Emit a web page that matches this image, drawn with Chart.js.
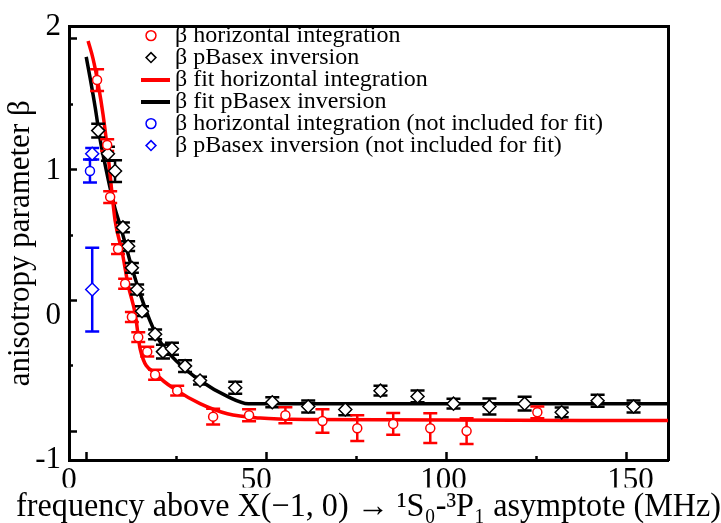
<!DOCTYPE html>
<html>
<head>
<meta charset="utf-8">
<script src="https://cdn.jsdelivr.net/npm/chart.js@4.4.1/dist/chart.umd.min.js"></script>
<style>
  body { margin: 0; background: #fff; }
</style>
</head>
<body>
<canvas id="betaChart" width="721" height="523"></canvas>
<script>
// beta from horizontal integration (red circles)
const horizFreq = [7.5, 10.2, 11.0, 13.1, 15.0, 16.8, 18.5, 20.9, 23.0, 28.9, 38.5, 48.1, 57.8, 67.7, 77.0, 86.6, 96.5, 106.2, 125.1];
const horizBeta = [1.63, 1.18, 0.82, 0.46, 0.22, -0.01, -0.15, -0.25, -0.41, -0.52, -0.70, -0.69, -0.69, -0.73, -0.78, -0.75, -0.78, -0.80, -0.67];
const horizErr = [0.075, 0.041, 0.041, 0.034, 0.034, 0.034, 0.034, 0.034, 0.034, 0.034, 0.055, 0.041, 0.055, 0.082, 0.089, 0.075, 0.103, 0.089, 0.041];

// beta from pBasex inversion (black diamonds)
const pbFreq = [7.8, 10.4, 12.3, 14.4, 15.8, 16.8, 18.2, 19.5, 23.0, 25.1, 27.5, 31.0, 35.0, 44.4, 54.3, 63.9, 73.8, 83.2, 93.1, 102.7, 112.3, 121.7, 131.6, 141.2, 150.8];
const pbBeta = [1.28, 1.12, 1.00, 0.61, 0.48, 0.33, 0.18, 0.03, -0.13, -0.25, -0.23, -0.35, -0.45, -0.50, -0.60, -0.63, -0.65, -0.52, -0.56, -0.61, -0.63, -0.61, -0.67, -0.59, -0.63];
const pbErr = [0.048, 0.048, 0.075, 0.034, 0.034, 0.034, 0.034, 0.034, 0.034, 0.048, 0.041, 0.041, 0.027, 0.041, 0.034, 0.041, 0.041, 0.034, 0.041, 0.034, 0.055, 0.048, 0.034, 0.041, 0.041];

// fit curves
const horizFitFreq = [5.1, 6.4, 7.8, 9.1, 10.4, 12.3, 14.2, 15.8, 17.7, 19.0, 23.5, 28.9, 35.0, 42.3, 51.1, 64.4, 160];
const horizFitBeta = [1.90, 1.78, 1.60, 1.39, 1.12, 0.66, 0.44, 0.21, 0.01, -0.23, -0.41, -0.52, -0.61, -0.68, -0.71, -0.72, -0.727];
const pbFitFreq = [4.6, 5.6, 7.0, 8.3, 9.6, 11.0, 12.3, 13.6, 15.0, 16.8, 19.0, 21.7, 24.3, 28.9, 35.0, 42.3, 47.9, 160];
const pbFitBeta = [1.79, 1.65, 1.44, 1.22, 1.05, 0.88, 0.74, 0.63, 0.50, 0.33, 0.15, -0.04, -0.18, -0.32, -0.45, -0.56, -0.611, -0.611];

// points left out of the fit (blue)
const exclHorizFreq = [5.6];
const exclHorizBeta = [1.00];
const exclHorizErr = [0.08];
const exclPbFreq = [6.2, 6.2];
const exclPbBeta = [1.12, 0.18];
const exclPbErr = [0.04, 0.29];

// tick labels
const xTicks = [0, 50, 100, 150];
const yTicks = [-1, 0, 1, 2];

const serif = "'Liberation Serif', 'DejaVu Serif', serif";

function points(freq, beta) {
  return freq.map((f, i) => ({ x: f, y: beta[i] }));
}

// vertical bar + caps for each point, gaps between them
function errorBars(freq, beta, err) {
  const pts = [];
  freq.forEach((f, i) => {
    pts.push({ x: f, y: beta[i] - err[i] }, { x: f, y: beta[i] + err[i] }, { x: f, y: null });
  });
  return pts;
}

// little line sample for the legend
function lineIcon(color) {
  const c = document.createElement("canvas");
  c.width = 38;
  c.height = 4;
  const g = c.getContext("2d");
  g.fillStyle = color;
  g.fillRect(0, 0, 38, 4);
  return c;
}

function markerSet(label, data, color, style, radius) {
  return {
    label, data,
    pointStyle: style, pointRadius: radius,
    borderColor: color, backgroundColor: "#fff", borderWidth: 1.5,
    xAxisID: "x", yAxisID: "y", order: 1
  };
}

function barSet(data, color) {
  return {
    label: "", data, showLine: true, spanGaps: false,
    borderColor: color, borderWidth: 2.5,
    pointStyle: "line", pointRadius: 7, pointBorderWidth: 2.5, pointBorderColor: color,
    xAxisID: "x", yAxisID: "y", order: 2
  };
}

function fitSet(label, data, color) {
  return {
    label, data, showLine: true,
    borderColor: color, borderWidth: 3.5, backgroundColor: color,
    pointRadius: 0, pointStyle: lineIcon(color),
    cubicInterpolationMode: "monotone",
    xAxisID: "x", yAxisID: "y", order: 3
  };
}

// inward tick marks, which sit apart from the labels in the original
function tickAxis(position, min, max, len) {
  return {
    type: "linear", position, weight: 0, min, max,
    ticks: { display: false, stepSize: 2, includeBounds: false },
    grid: { drawOnChartArea: false, tickLength: -len, tickWidth: 2.5, tickColor: "#000" },
    border: { display: false },
    afterFit: s => { if (position === "bottom") s.height = 0; else s.width = 0; }
  };
}

function frameAxis(position, size) {
  return {
    type: "linear", position, min: 0, max: 1,
    ticks: { display: false },
    grid: { display: false, drawTicks: false },
    border: { display: true, width: 3, color: "#000" },
    afterFit: s => { if (position === "top") s.height = size; else s.width = size; }
  };
}

const legendPlacer = {
  id: "legendPlacer",
  afterLayout(chart) {
    chart.legend.left = chart.chartArea.left + 72;
    chart.legend.top = chart.chartArea.top - 1;
  }
};

document.addEventListener("DOMContentLoaded", () => {
  const ctx = document.getElementById("betaChart");

  new Chart(ctx, {
    type: "scatter",
    data: {
      datasets: [
        markerSet("\u03b2 horizontal integration", points(horizFreq, horizBeta), "#ff0000", "circle", 4.5),
        markerSet("\u03b2 pBasex inversion", points(pbFreq, pbBeta), "#000000", "rectRot", 6.5),
        fitSet("\u03b2 fit horizontal integration", points(horizFitFreq, horizFitBeta), "#ff0000"),
        fitSet("\u03b2 fit pBasex inversion", points(pbFitFreq, pbFitBeta), "#000000"),
        markerSet("\u03b2 horizontal integration (not included for fit)", points(exclHorizFreq, exclHorizBeta), "#0000ff", "circle", 4.5),
        markerSet("\u03b2 pBasex inversion (not included for fit)", points(exclPbFreq, exclPbBeta), "#0000ff", "rectRot", 6.5),
        barSet(errorBars(horizFreq, horizBeta, horizErr), "#ff0000"),
        barSet(errorBars(pbFreq, pbBeta, pbErr), "#000000"),
        barSet(errorBars(exclHorizFreq, exclHorizBeta, exclHorizErr), "#0000ff"),
        barSet(errorBars(exclPbFreq, exclPbBeta, exclPbErr), "#0000ff")
      ]
    },
    options: {
      responsive: false,
      animation: false,
      devicePixelRatio: 1,
      layout: { padding: { left: 0, top: 21, right: 0, bottom: 0 } },
      plugins: {
        tooltip: { enabled: false },
        // x axis caption, as a bottom title so it may run wider than the plot
        title: {
          display: true,
          position: "bottom",
          color: "#000",
          padding: { top: 0, bottom: -4 },
          text: "  frequency above X(\u22121, 0) \u2192 \u00b9S\u2080-\u00b3P\u2081 asymptote (MHz)",
          font: { family: serif, size: 33, weight: "normal" }
        },
        legend: {
          position: "chartArea",
          align: "start",
          labels: {
            usePointStyle: true,
            boxHeight: 7,
            padding: -2,
            color: "#000",
            font: { family: serif, size: 24 },
            filter: item => item.text !== "",
            sort: (a, b) => a.datasetIndex - b.datasetIndex
          }
        }
      },
      scales: {
        x: {
          type: "linear", position: "bottom", weight: 1, min: 0, max: 160,
          afterBuildTicks: s => { s.ticks = xTicks.map(v => ({ value: v })); },
          ticks: { color: "#000", font: { family: serif, size: 31 }, padding: 2, maxRotation: 0 },
          grid: { display: false, drawTicks: false },
          border: { display: true, width: 3, color: "#000" },
          afterFit: s => { s.height = 27.4; }
        },
        y: {
          type: "linear", position: "left", weight: 1, min: -1, max: 2,
          afterBuildTicks: s => { s.ticks = yTicks.map(v => ({ value: v })); },
          ticks: { color: "#000", font: { family: serif, size: 31 }, padding: 8 },
          grid: { display: false, drawTicks: false },
          border: { display: true, width: 3, color: "#000" },
          title: {
            display: true, color: "#000", padding: { top: 2, bottom: 0 },
            text: "anisotropy parameter \u03b2",
            font: { family: serif, size: 31 }
          },
          afterFit: s => { s.width = 69; }
        },
        xMajor: tickAxis("bottom", -0.2, 6.456, 8),
        xMinor: tickAxis("bottom", -1.2, 5.456, 4),
        yMajor: tickAxis("left", -0.437, 6.184, 8),
        yMinor: tickAxis("left", -1.437, 5.184, 4),
        xTop: frameAxis("top", 0),
        yRight: frameAxis("right", 53)
      }
    },
    plugins: [legendPlacer]
  });
});
</script>
</body>
</html>
